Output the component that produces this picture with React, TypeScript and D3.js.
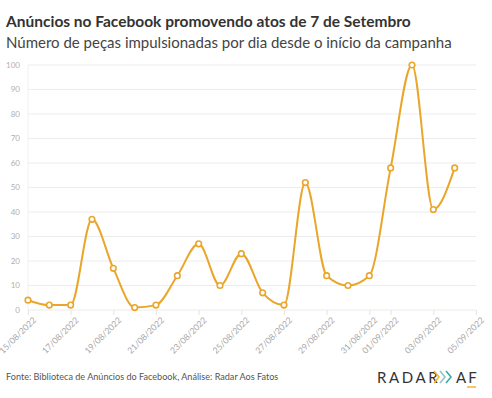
import { useEffect, useRef } from 'react'
import * as d3 from 'd3'

const dates = [
  '2022-08-15', '2022-08-16', '2022-08-17', '2022-08-18', '2022-08-19', '2022-08-20', '2022-08-21',
  '2022-08-22', '2022-08-23', '2022-08-24', '2022-08-25', '2022-08-26', '2022-08-27', '2022-08-28',
  '2022-08-29', '2022-08-30', '2022-08-31', '2022-09-01', '2022-09-02', '2022-09-03', '2022-09-04',
]
const counts = [4, 2, 2, 37, 17, 1, 2, 14, 27, 10, 23, 7, 2, 52, 14, 10, 14, 58, 100, 41, 58]
const yTicks = [0, 10, 20, 30, 40, 50, 60, 70, 80, 90, 100]
const xDomain = ['2022-08-15', '2022-09-05']

const FONT = 'Lato, "Noto Sans", sans-serif'
const LINE = '#eaa62a'

export default function App() {
  const svgRef = useRef<SVGSVGElement>(null)

  useEffect(() => {
    const svg = d3.select(svgRef.current)
    svg.selectAll('*').remove()

    const W = 492
    const H = 398
    const margin = { top: 65, right: 16, bottom: 88, left: 28 }
    const innerW = W - margin.left - margin.right
    const innerH = H - margin.top - margin.bottom

    svg.attr('width', W).attr('height', H)

    const parse = d3.timeParse('%Y-%m-%d')
    const data = dates.map((d, i) => ({ date: parse(d) as Date, value: counts[i] }))

    const x = d3
      .scaleTime()
      .domain(xDomain.map((d) => parse(d) as Date))
      .range([0, innerW])
    const y = d3.scaleLinear().domain([0, 100]).range([innerH, 0])

    const g = svg.append('g').attr('transform', `translate(${margin.left},${margin.top})`)

    // grid
    g.selectAll('.grid')
      .data(yTicks)
      .enter()
      .append('line')
      .attr('x1', 0)
      .attr('x2', innerW)
      .attr('y1', (d) => y(d))
      .attr('y2', (d) => y(d))
      .attr('stroke', '#ececec')
      .attr('stroke-width', 1)

    g.append('line')
      .attr('x1', 0)
      .attr('x2', 0)
      .attr('y1', 0)
      .attr('y2', innerH)
      .attr('stroke', '#f0f0f0')

    // y labels
    g.selectAll('.ylab')
      .data(yTicks)
      .enter()
      .append('text')
      .attr('x', -8)
      .attr('y', (d) => y(d))
      .attr('dy', '0.35em')
      .attr('text-anchor', 'end')
      .attr('fill', '#b0b0b0')
      .style('font-family', FONT)
      .style('font-size', '8px')
      .text((d) => d)

    // x axis
    const fmt = d3.timeFormat('%d/%m/%Y')
    g.append('g')
      .attr('transform', `translate(0,${innerH})`)
      .call(d3.axisBottom(x).ticks(d3.timeDay.every(2)).tickSize(5).tickPadding(4).tickFormat((d) => fmt(d as Date)))
      .call((axis) => {
        axis.select('.domain').remove()
        axis.selectAll('.tick line').attr('stroke', '#e4e4e4')
        axis.selectAll('.tick text')
          .attr('fill', '#a8a8a8')
          .attr('text-anchor', 'end')
          .attr('transform', 'rotate(-45)')
          .attr('dx', '-0.2em')
          .attr('dy', '0.5em')
          .style('font-family', FONT)
          .style('font-size', '8.6px')
      })

    // line
    const line = d3
      .line<{ date: Date; value: number }>()
      .x((d) => x(d.date))
      .y((d) => y(d.value))
      .curve(d3.curveMonotoneX)

    g.append('path')
      .datum(data)
      .attr('fill', 'none')
      .attr('stroke', LINE)
      .attr('stroke-width', 2)
      .attr('d', line)

    g.selectAll('.dot')
      .data(data)
      .enter()
      .append('circle')
      .attr('cx', (d) => x(d.date))
      .attr('cy', (d) => y(d.value))
      .attr('r', 2.8)
      .attr('fill', '#fff')
      .attr('stroke', LINE)
      .attr('stroke-width', 1.6)
  }, [])

  return (
    <div style={{ position: 'absolute', left: 0, top: 0, width: 492, height: 398, background: '#fff' }}>
      <svg width={492} height={398} style={{ position: 'absolute', left: 0, top: 0 }}>
        <text x={6} y={27} fontFamily={FONT} fontWeight={700} fontSize={15.5} fill="#333">
          Anúncios no Facebook promovendo atos de 7 de Setembro
        </text>
        <text x={6} y={48} fontFamily={FONT} fontSize={15} fill="#444">
          Número de peças impulsionadas por dia desde o início da campanha
        </text>
        <text x={6} y={380} fontFamily={FONT} fontSize={9.1} fill="#555">
          Fonte: Biblioteca de Anúncios do Facebook, Análise: Radar Aos Fatos
        </text>
        <text x={377} y={383} fontFamily={FONT} fontSize={15} letterSpacing={2.6} fill="#333">
          RADAR
        </text>
        <g fill="none" strokeWidth={1.6}>
          <path d="M434,371 L439,377 L434,383" stroke="#f2b632" />
          <path d="M440,371 L445,377 L440,383" stroke="#8fc7c0" />
          <path d="M446,371 L451,377 L446,383" stroke="#3fa9a3" />
        </g>
        <text x={456} y={383} fontFamily={FONT} fontSize={15} letterSpacing={2} fill="#333">
          AF
        </text>
        <line x1={467} x2={476} y1={387} y2={387} stroke="#f2b632" strokeWidth={1.5} />
      </svg>
      <svg ref={svgRef} style={{ position: 'absolute', left: 0, top: 0 }} />
    </div>
  )
}
